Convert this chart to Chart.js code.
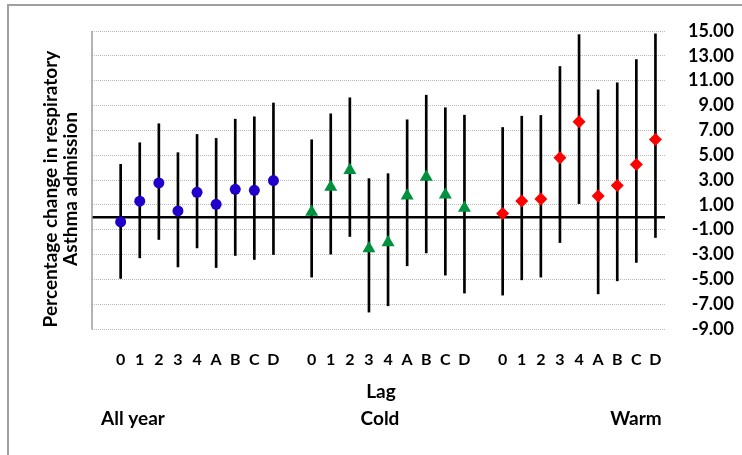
<!DOCTYPE html>
<html>
<head>
<meta charset="utf-8">
<script src="https://cdn.jsdelivr.net/npm/chart.js@4"></script>
<style>
  html, body { margin: 0; padding: 0; background: #fff; }
  #wrap { width: 742px; height: 455px; position: relative; }
</style>
</head>
<body>
<div id="wrap"><canvas id="chart"></canvas></div>
<script>
const lags = ["0", "1", "2", "3", "4", "A", "B", "C", "D"];
const groups = ["All year", "Cold", "Warm"];
const yTicks = [-9, -7, -5, -3, -1, 1, 3, 5, 7, 9, 11, 13, 15];

// point estimates and 95% limits
const allYearEst = [-0.38, 1.29, 2.76, 0.51, 2.01, 1.04, 2.25, 2.17, 2.95];
const allYearLow = [-4.93, -3.27, -1.79, -4.0, -2.47, -4.05, -3.08, -3.4, -3.0];
const allYearHigh = [4.26, 6.0, 7.53, 5.2, 6.67, 6.35, 7.9, 8.09, 9.2];

const coldEst = [0.43, 2.44, 3.78, -2.52, -2.04, 1.74, 3.24, 1.82, 0.75];
const coldLow = [-4.82, -2.97, -1.55, -7.64, -7.13, -3.91, -2.87, -4.66, -6.11];
const coldHigh = [6.24, 8.33, 9.62, 3.11, 3.51, 7.85, 9.83, 8.82, 8.22];

const warmEst = [0.3, 1.31, 1.47, 4.8, 7.69, 1.71, 2.55, 4.24, 6.27];
const warmLow = [-6.27, -5.04, -4.82, -2.04, 1.1, -6.17, -5.12, -3.64, -1.63];
const warmHigh = [7.23, 8.14, 8.2, 12.14, 14.71, 10.26, 10.83, 12.7, 14.77];

// one empty slot before each group of lags
const labels = [];
for (let g = 0; g < 3; g++) {
    labels.push("");
    for (let l of lags) labels.push(l);
}

function place(values, groupIndex) {
    let out = new Array(labels.length).fill(null);
    values.forEach((v, i) => { out[groupIndex * 10 + 1 + i] = v; });
    return out;
}

function ranges(low, high) {
    return low.map((v, i) => [v, high[i]]);
}

const FONT = "Lato, 'Open Sans', sans-serif";

const errorBar = (data) => ({
    type: "bar",
    data: data,
    backgroundColor: "#000",
    barThickness: 2,
    grouped: false,
    order: 2,
});

const marker = (data, color, style, radius) => ({
    type: "line",
    data: data,
    showLine: false,
    pointStyle: style,
    pointRadius: radius,
    pointBackgroundColor: color,
    pointBorderColor: color,
    pointBorderWidth: 0,
    order: 1,
});

const extras = {
    id: "extras",
    beforeDatasetsDraw(chart) {
        const { ctx, chartArea, scales } = chart;
        const y0 = scales.y.getPixelForValue(0);
        ctx.save();
        ctx.strokeStyle = "#000";
        ctx.lineWidth = 2.5;
        ctx.beginPath();
        ctx.moveTo(chartArea.left, y0);
        ctx.lineTo(chartArea.right, y0);
        ctx.stroke();
        // left edge of plot area
        ctx.strokeStyle = "#9a9a9a";
        ctx.lineWidth = 1.5;
        ctx.beginPath();
        ctx.moveTo(chartArea.left, chartArea.top);
        ctx.lineTo(chartArea.left, chartArea.bottom + 0.5);
        ctx.stroke();
        ctx.restore();
    },
    afterDraw(chart) {
        const { ctx } = chart;
        ctx.save();
        // outer frame (only top and left are in view)
        ctx.strokeStyle = "#a0a0a0";
        ctx.lineWidth = 2;
        ctx.beginPath();
        ctx.moveTo(8, 455);
        ctx.lineTo(8, 5);
        ctx.lineTo(742, 5);
        ctx.stroke();

        ctx.fillStyle = "#000";
        ctx.textAlign = "center";
        ctx.textBaseline = "middle";
        ctx.font = "bold 19px " + FONT;
        ctx.fillText("Lag", 381, 392);
        ctx.fillText(groups[0], 133, 419);
        ctx.fillText(groups[1], 380, 419);
        ctx.fillText(groups[2], 636, 419);

        ctx.font = "bold 19px " + FONT;
        ctx.save();
        ctx.translate(51, 189);
        ctx.rotate(-Math.PI / 2);
        ctx.fillText("Percentage change in respiratory", 0, 0);
        ctx.restore();
        ctx.save();
        ctx.translate(71, 189);
        ctx.rotate(-Math.PI / 2);
        ctx.fillText("Asthma admission", 0, 0);
        ctx.restore();
        ctx.restore();
    },
};

new Chart(document.getElementById("chart"), {
    type: "bar",
    data: {
        labels: labels,
        datasets: [
            errorBar(place(ranges(allYearLow, allYearHigh), 0)),
            errorBar(place(ranges(coldLow, coldHigh), 1)),
            errorBar(place(ranges(warmLow, warmHigh), 2)),
            marker(place(allYearEst, 0), "#2200cc", "circle", 5.5),
            marker(place(coldEst, 1), "#00913f", "triangle", 7.5),
            marker(place(warmEst, 2), "#ff0000", "rectRot", 6.5),
        ],
    },
    options: {
        responsive: true,
        maintainAspectRatio: false,
        animation: false,
        layout: { padding: { left: 92, top: 31, right: 8, bottom: 0 } },
        plugins: {
            legend: { display: false },
            tooltip: { enabled: false },
        },
        scales: {
            x: {
                offset: true,
                grid: { display: false, drawTicks: false },
                border: { display: false },
                ticks: {
                    color: "#000",
                    font: { family: FONT, size: 16, weight: "bold" },
                    padding: 21,
                    autoSkip: false,
                    maxRotation: 0,
                },
                afterFit(scale) { scale.height = 126; },
            },
            y: {
                position: "right",
                min: -9,
                max: 15,
                afterBuildTicks(scale) {
                    scale.ticks = yTicks.map((v) => ({ value: v }));
                },
                grid: {
                    color: "#b8b8b8",
                    lineWidth: 1,
                    drawTicks: false,
                },
                border: { display: false, dash: [1, 1] },
                ticks: {
                    color: "#000",
                    font: { family: FONT, size: 18, weight: "bold" },
                    padding: 12,
                    crossAlign: "far",
                    callback: (v) => v.toFixed(2),
                },
                afterFit(scale) { scale.width = 69; },
            },
        },
    },
    plugins: [extras],
});
</script>
</body>
</html>
